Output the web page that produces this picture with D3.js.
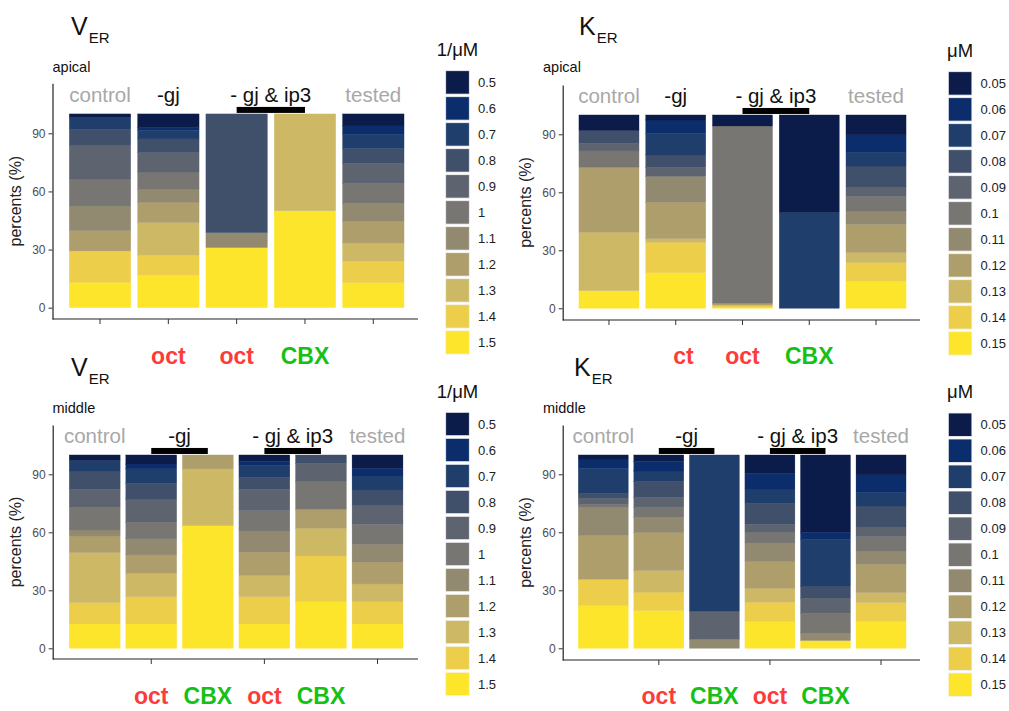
<!DOCTYPE html>
<html><head><meta charset="utf-8">
<script src="https://cdn.jsdelivr.net/npm/d3@7"></script>
<style>
body{margin:0;background:#fff;}
svg{display:block;font-family:"Liberation Sans",Arial,sans-serif;}
</style></head>
<body><svg id="c" width="1009" height="711"></svg>
<script>
// ---------------- DATA ----------------
// legend levels (top to bottom)
const vLevels = ["0.5","0.6","0.7","0.8","0.9","1","1.1","1.2","1.3","1.4","1.5"];
const kLevels = ["0.05","0.06","0.07","0.08","0.09","0.1","0.11","0.12","0.13","0.14","0.15"];
const palette = ["#0c1c4a","#0c2d6c","#1f3e6b","#40506b","#5d636f","#777672","#918a70","#ae9e6c","#cdb865","#ecce4b","#fde52c"];

// each bar: percentages for levels in legend order (0.5 ... 1.5)
const apicalCats = ["control","-gj oct","-gj&ip3 oct","-gj&ip3 CBX","tested"];
const middleCats = ["control","-gj oct","-gj CBX","-gj&ip3 oct","-gj&ip3 CBX","tested"];

const verApical = [
  [1.7,0,6.2,8.5,17.2,13.9,12.8,10.4,0,16.2,13.1],
  [7.1,1.4,4.4,7.1,10.0,9.1,6.7,10.3,16.7,10.3,16.9],
  [0,0,0,61.3,0,0,7.7,0,0,0,31.0],
  [0,0,0,0,0,0,0,0,50,0,50],
  [6.2,4.3,7.4,7.6,10.3,10.3,9.2,11.3,9.3,11.2,12.9]
];
const kerApical = [
  [8.1,0,0,6.6,3.9,8.5,0,33.6,30.2,0,9.1],
  [2.6,6.9,11.2,6.4,4.6,0,13.6,18.7,1.9,15.7,18.4],
  [5.7,0,0,0,0,91.7,0,1.0,0,1.0,0.6],
  [50.3,0,49.7,0,0,0,0,0,0,0,0],
  [10.3,9.2,6.9,11.2,4.6,7.5,6.9,14.6,5.2,9.5,14.1]
];
const verMiddle = [
  [2.9,0,5.4,9.5,9.4,11.6,3.1,8.6,25.9,11.0,12.6],
  [4.7,2.5,7.5,8.1,12.0,8.6,8.3,9.5,12.1,14.1,12.6],
  [0,0,0,0,0,0,0,7.2,29.4,0,63.4],
  [3.4,2.1,6.2,6.1,11.0,10.5,11.0,12.1,10.9,14.1,12.6],
  [0,0,0,4.3,9.5,14.3,0,9.8,14.3,23.7,24.1],
  [6.9,4.0,7.2,7.8,10.0,10.3,9.3,11.2,9.2,11.5,12.6]
];
const kerMiddle = [
  [2.1,4.8,12.9,2.6,3.1,1.6,14.3,22.9,0,13.6,22.1],
  [3.4,4.9,5.5,8.1,5.2,5.1,8.0,19.6,11.2,9.5,19.5],
  [0,0,80.7,0,14.6,0,4.7,0,0,0,0],
  [9.5,8.1,7.4,10.9,4.3,5.5,9.5,13.8,7.2,10.0,13.8],
  [40,3.6,24.2,6.3,7.8,10.3,3.8,0,0,0,4.0],
  [10.3,9.2,6.9,11.2,4.6,7.5,6.9,14.6,5.2,9.5,14.1]
];
const yTicks = [0,30,60,90];
const apicalTreat = ["oct","oct","CBX"];
const kerApicalTreat = ["ct","oct","CBX"];
const middleTreat = ["oct","CBX","oct","CBX"];

// ---------------- DRAW ----------------
const svg = d3.select("#c");
const RED = "#fe3b3b", GREEN = "#16c116";

function drawPanel(cfg){
  const g = svg.append("g");
  const n = cfg.values.length;
  const x = d3.scaleBand().domain(d3.range(n)).range(cfg.xr).paddingInner(0.1).paddingOuter(0.05);
  const base = d3.scaleLinear().domain([0,90]).range([cfg.y0, cfg.y90]);
  const y = d3.scaleLinear().domain([base.invert(cfg.axB), base.invert(cfg.axT)]).range([cfg.axB, cfg.axT]);
  const cx = i => x(i) + x.bandwidth()/2;

  // stacked bars, 1.5 at bottom
  const keys = d3.range(11).reverse();
  const rows = cfg.values.map((v,i)=>{const o={i}; v.forEach((p,k)=>o[k]=p); return o;});
  const series = d3.stack().keys(keys)(rows);
  series.forEach(s=>{
    g.selectAll(null).data(s.filter(d=>d[1]-d[0]>0)).enter().append("rect")
      .attr("x", d=>x(d.data.i)).attr("width", x.bandwidth())
      .attr("y", d=>y(d[1])).attr("height", d=>y(d[0])-y(d[1]))
      .attr("fill", palette[s.key]).attr("stroke", palette[s.key]).attr("stroke-width",0.3);
  });

  // y axis
  const ya = g.append("g").attr("transform",`translate(${cfg.ax},0)`)
    .call(d3.axisLeft(y).tickValues(yTicks).tickSize(4).tickSizeOuter(0).tickPadding(3));
  ya.select(".domain").attr("stroke","#222").attr("stroke-width",1.2);
  ya.selectAll(".tick line").attr("stroke","#333");
  ya.selectAll(".tick text").attr("fill","#4d4d4d").style("font-size","12px").style("font-family","Liberation Sans, Arial");
  // x axis
  g.append("line").attr("x1",cfg.ax).attr("x2",cfg.xEnd).attr("y1",cfg.axB).attr("y2",cfg.axB)
    .attr("stroke","#222").attr("stroke-width",1.2);
  const xa = g.append("g").attr("transform",`translate(0,${cfg.axB})`)
    .call(d3.axisBottom(x).tickValues(cfg.ticks).tickFormat("").tickSize(5).tickSizeOuter(0));
  xa.select(".domain").remove();
  xa.selectAll(".tick line").attr("stroke","#333");

  // y label
  g.append("text").attr("transform",`translate(${cfg.ylx},${(cfg.axT+cfg.axB)/2}) rotate(-90)`)
    .attr("text-anchor","middle").style("font-size","16px").attr("fill","#222").text("percents (%)");

  // group labels
  const top = y(100);
  const gl = cfg.groups;
  gl.forEach(gr=>{
    const xc = gr.bars.length===1 ? cx(gr.bars[0]) : (cx(gr.bars[0])+cx(gr.bars[1]))/2;
    g.append("text").attr("x",xc).attr("y",top-12).attr("text-anchor","middle")
      .style("font-size","20.5px").attr("fill",gr.gray?"#a8a8a8":"#111").text(gr.label);
    if(gr.bars.length===2){
      g.append("rect").attr("x",cx(gr.bars[0])).attr("width",cx(gr.bars[1])-cx(gr.bars[0]))
        .attr("y",top-7).attr("height",6).attr("fill","#000");
    }
  });

  // treatment labels
  cfg.treat.forEach((t,j)=>{
    const i = cfg.treatStart + j;
    const isCt = t==="ct";
    g.append("text").attr("x", isCt ? cx(i)+18 : cx(i)).attr("y",cfg.treatY)
      .attr("text-anchor", isCt ? "end" : "middle")
      .style("font-size","23px").style("font-weight","bold")
      .attr("fill", t==="CBX"?GREEN:RED).text(t);
  });

  // title
  const tt = g.append("text").attr("x",cfg.tx).attr("y",cfg.ty).attr("fill","#111");
  tt.append("tspan").style("font-size","25px").text(cfg.title);
  tt.append("tspan").style("font-size","15px").attr("dx",1).attr("dy",7.5).text("ER");
  g.append("text").attr("x",cfg.subx).attr("y",cfg.ty+36.7).style("font-size","14.5px").attr("fill","#111").text(cfg.sub);

  // legend
  const lg = g.append("g");
  lg.append("text").attr("x",cfg.lx+11.8).attr("y",cfg.lTop-14.7).attr("text-anchor","middle")
    .style("font-size","18.5px").attr("fill","#111").text(cfg.unit);
  cfg.levels.forEach((lv,k)=>{
    lg.append("rect").attr("x",cfg.lx).attr("y",cfg.lTop+k*26).attr("width",23.6).attr("height",23.4)
      .attr("fill",palette[k]).attr("stroke","#f2f2f2").attr("stroke-width",0.8);
    lg.append("text").attr("x",cfg.lx+32.3).attr("y",cfg.lTop+k*26+11.7).attr("dy","0.35em")
      .style("font-size","13px").attr("fill","#222").text(lv);
  });
}

const groupsA = [
  {label:"control",bars:[0],gray:true},
  {label:"-gj",bars:[1]},
  {label:"- gj & ip3",bars:[2,3]},
  {label:"tested",bars:[4],gray:true}
];
const groupsM = [
  {label:"control",bars:[0],gray:true},
  {label:"-gj",bars:[1,2]},
  {label:"- gj & ip3",bars:[3,4]},
  {label:"tested",bars:[5],gray:true}
];

drawPanel({values:verApical, xr:[65.85,407.45], y0:307.7, y90:133.3, axB:319, axT:83.3, ax:52.5, xEnd:418,
  ticks:[0,1,2,3,4], ylx:21, groups:groupsA, treat:apicalTreat, treatStart:1, treatY:363.5,
  title:"V", tx:71, ty:35, sub:"apical", subx:52.5, lx:445.7, lTop:70.7, levels:vLevels, unit:"1/\u03bcM"});
drawPanel({values:kerApical, xr:[575.6,909.4], y0:308.3, y90:134.3, axB:320, axT:85, ax:562.7, xEnd:920,
  ticks:[0,1,2,3,4], ylx:531, groups:groupsA, treat:kerApicalTreat, treatStart:1, treatY:363.5,
  title:"K", tx:579, ty:35, sub:"apical", subx:543, lx:948.3, lTop:71.7, levels:kLevels, unit:"\u03bcM"});
drawPanel({values:verMiddle, xr:[66.4,405.8], y0:648.3, y90:474.3, axB:659, axT:425, ax:52.7, xEnd:418,
  ticks:[1,3,5], ylx:21, groups:groupsM, treat:middleTreat, treatStart:1, treatY:703.5,
  title:"V", tx:71, ty:376, sub:"middle", subx:52.5, lx:445.7, lTop:412.3, levels:vLevels, unit:"1/\u03bcM"});
drawPanel({values:kerMiddle, xr:[575.5,908.8], y0:648.3, y90:474.3, axB:660, axT:425, ax:562.7, xEnd:920,
  ticks:[1,3,5], ylx:531, groups:groupsM, treat:middleTreat, treatStart:1, treatY:703.5,
  title:"K", tx:574, ty:376, sub:"middle", subx:543, lx:948.3, lTop:413, levels:kLevels, unit:"\u03bcM"});
</script>
</body></html>
